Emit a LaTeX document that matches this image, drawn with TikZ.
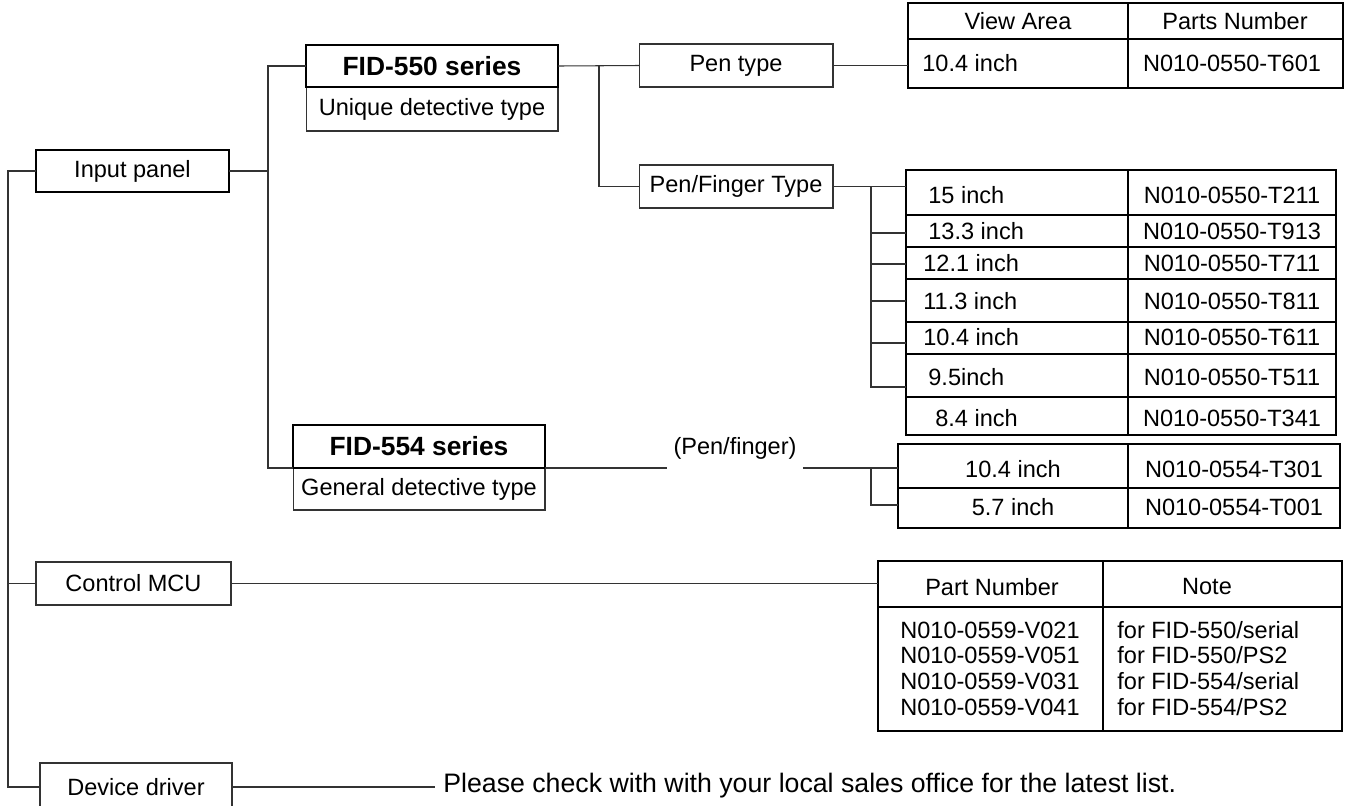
\documentclass[tikz,border=0pt]{standalone}
\usepackage{fontspec}
\setmainfont{Liberation Sans}
\usetikzlibrary{positioning}

\begin{document}
\begin{tikzpicture}[x=0.02cm,y=-0.02cm,
  every node/.style={font=\fontsize{13.4}{16}\selectfont},
  box/.style={draw=black!80,line width=0.6pt,inner sep=0pt,outer sep=0pt},
  heavybox/.style={box,draw=black,line width=1.5pt},
  title/.style={font=\fontsize{15}{18}\selectfont\bfseries},
  link/.style={draw=black!80,line width=0.6pt},
  rule/.style={draw=black,line width=0.7pt},
  txt/.style={inner sep=0pt}]
\useasboundingbox (0,0) rectangle (1345,805);

\node[heavybox,minimum width=3.86cm,minimum height=0.84cm] (inp) at (132.5,171) {Input panel};
\node[box,minimum width=5.04cm,minimum height=0.88cm] (u550) at (432,109) {Unique detective type};
\node[heavybox,title,minimum width=5.04cm,minimum height=0.84cm,above=0pt of u550] (f550) {FID-550 series};
\node[box,minimum width=5.04cm,minimum height=0.84cm] (g554) at (419,489) {General detective type};
\node[heavybox,title,minimum width=5.04cm,minimum height=0.86cm,above=0pt of g554] (f554) {FID-554 series};
\node[box,minimum width=3.88cm,minimum height=0.86cm] (pen) at (736,65.5) {Pen type};
\node[box,minimum width=3.88cm,minimum height=0.86cm] (penf) at (736,186.5) {Pen/Finger Type};
\node[box,minimum width=3.9cm,minimum height=0.86cm] (mcu) at (133.5,583.5) {Control MCU};
\node[box,minimum width=3.84cm,minimum height=0.96cm] (drv) at (136,787) {Device driver};
\node[txt,inner xsep=0.12cm] (pf) at (735,448) {(Pen/finger)};
\node[txt,anchor=base west,inner xsep=0.16cm,font=\fontsize{15.2}{18}\selectfont] (msg) at (435,792) {Please check with with your local sales office for the latest list.};

\node[heavybox,minimum width=8.7cm,minimum height=1.7cm] (tab1) at (1125.5,45.5) {};
\draw[rule] (tab1.west |- 0,39) -- (tab1.east |- 0,39);
\draw[rule] (tab1.north -| 1128,0) -- (tab1.south -| 1128,0);
\node[txt] (h1) at (1018,21) {View Area};
\node[txt] (h2) at (1235,21) {Parts Number};
\node[txt,anchor=west] (a1) at (922,63) {10.4 inch};
\node[txt] (b1) at (1232,63) {N010-0550-T601};

\node[heavybox,minimum width=8.6cm,minimum height=5.3cm] (tab2) at (1121,302.5) {};
\foreach \y in {215,247,279,322,354,397}
  \draw[rule] (tab2.west |- 0,\y) -- (tab2.east |- 0,\y);
\draw[rule] (tab2.north -| 1128,0) -- (tab2.south -| 1128,0);
\foreach \y/\x/\s/\p [count=\i] in {195/928/15 inch/T211,231/928/13.3 inch/T913,263/923/12.1 inch/T711,301/923/11.3 inch/T811,337/923/10.4 inch/T611,377/928/9.5inch/T511,418/935/8.4 inch/T341}{
  \node[txt,anchor=west] (s\i) at (\x,\y) {\s};
  \node[txt] (p\i) at (1232,\y) {N010-0550-\p};
}

\node[heavybox,minimum width=8.84cm,minimum height=1.68cm] (tab3) at (1119,486) {};
\draw[rule] (tab3.west |- 0,488) -- (tab3.east |- 0,488);
\draw[rule] (tab3.north -| 1128,0) -- (tab3.south -| 1128,0);
\node[txt] (c1) at (1013,469) {10.4 inch};
\node[txt] (d1) at (1234,469) {N010-0554-T301};
\node[txt] (c2) at (1013,507) {5.7 inch};
\node[txt] (d2) at (1234,507) {N010-0554-T001};

\node[heavybox,minimum width=9.28cm,minimum height=3.4cm] (tab4) at (1110,646) {};
\draw[rule] (tab4.west |- 0,607) -- (tab4.east |- 0,607);
\draw[rule] (tab4.north -| 1103,0) -- (tab4.south -| 1103,0);
\node[txt] (m1) at (992,587) {Part Number};
\node[txt] (m2) at (1207,587) {Note};
\foreach \y/\p/\n [count=\i] in {638.5/V021/{550/serial},663.5/V051/{550/PS2},689.5/V031/{554/serial},715.5/V041/{554/PS2}}{
  \node[txt,anchor=base west] (v\i) at (900,\y) {N010-0559-\p};
  \node[txt,anchor=base west] (w\i) at (1117,\y) {for FID-\n};
}

\coordinate (trk) at (8,171);
\draw[link] (inp.west) -- (trk) |- (mcu.west);
\draw[link] (trk) |- (drv.west);
\coordinate (ja) at (268,171);
\draw[link] (inp.east) -- (ja);
\draw[link] (f550.west) -| (ja) |- (f554.south west);
\coordinate (jb) at (599,66);
\draw[link] (f550.east) -- (pen.west);
\draw[link] (jb) |- (penf.west);
\draw[link] (pen.east) -- (tab1.west |- pen.east);
\coordinate (jc) at (871,387);
\draw[link] (penf.east) -- (tab2.west |- penf.east);
\draw[link] (penf.east -| jc) -- (jc) -- (tab2.west |- jc);
\foreach \y in {233,264,301,343}
  \draw[link] (jc |- 0,\y) -- (tab2.west |- 0,\y);
\coordinate (jd) at (871,505);
\draw[link] (f554.south east) -- (pf.west |- f554.south east);
\draw[link] (pf.east |- f554.south east) -- (tab3.west |- f554.south east);
\draw[link] (jd |- f554.south east) -- (jd) -- (tab3.west |- jd);
\draw[link] (mcu.east) -- (tab4.west |- mcu.east);
\draw[link] (drv.east) -- (drv.east -| msg.west);
\end{tikzpicture}
\end{document}
